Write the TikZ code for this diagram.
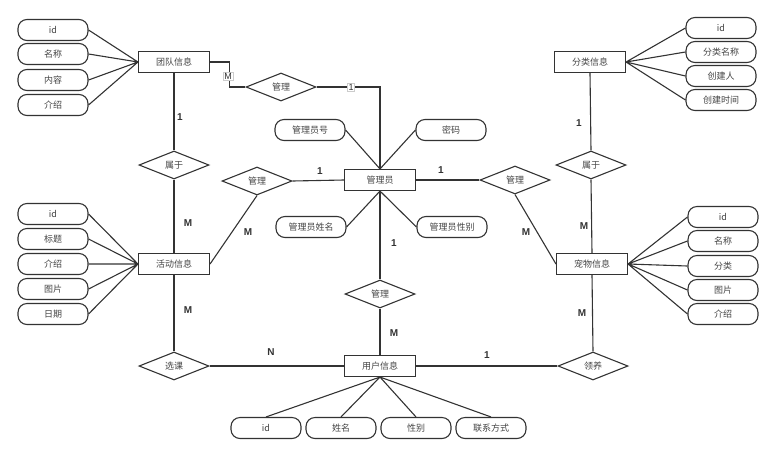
\documentclass[tikz,border=0pt]{standalone}
\usepackage{fontspec}
\setmainfont{Noto Sans CJK SC}
\newfontfamily\numfont{Liberation Sans}
\usetikzlibrary{shapes.geometric}
\definecolor{lncol}{HTML}{333333}
\definecolor{txtcol}{HTML}{444444}

\begin{document}
\begin{tikzpicture}[x=1pt, y=-1pt, line width=1.1pt, draw=lncol,
    entity/.style={draw=lncol, rectangle, minimum width=71pt, minimum height=21pt, inner sep=0pt, text=txtcol, font=\fontsize{9}{10}\selectfont},
    attr/.style={draw=lncol, rectangle, rounded corners=9pt, minimum width=70pt, minimum height=21pt, inner sep=0pt, text=txtcol, font=\fontsize{9}{10}\selectfont},
    rel/.style={draw=lncol, diamond, aspect=2.5, minimum width=70pt, minimum height=28pt, inner sep=0pt, text=txtcol, font=\fontsize{9}{10}\selectfont},
    card/.style={inner sep=0pt, text=lncol, font=\numfont\bfseries\fontsize{10}{12}\selectfont},
    tag/.style={fill=white, draw=gray!40, line width=0.4pt, inner sep=1pt, text=lncol, font=\numfont\fontsize{9}{10}\selectfont}]
    \useasboundingbox (0,0) rectangle (776,456);

    % entities
    \node[entity] (team) at (174,62) {团队信息};
    \node[entity] (cat) at (590,62) {分类信息};
    \node[entity] (admin) at (380,180) {管理员};
    \node[entity] (act) at (174,264) {活动信息};
    \node[entity] (pet) at (592,264) {宠物信息};
    \node[entity] (user) at (380,366) {用户信息};

    % relations
    \node[rel] (mgT) at (281,87) {管理};
    \node[rel] (belT) at (174,165) {属于};
    \node[rel] (belC) at (591,165) {属于};
    \node[rel] (mgA) at (257,181) {管理};
    \node[rel] (mgC) at (515,180) {管理};
    \node[rel] (mgU) at (380,294) {管理};
    \node[rel] (course) at (174,366) {选课};
    \node[rel] (adopt) at (593,366) {领养};

    % attributes
    \node[attr] (tid) at (53,30) {id};
    \node[attr] (tname) at (53,54) {名称};
    \node[attr] (tcont) at (53,80) {内容};
    \node[attr] (tintro) at (53,105) {介绍};

    \node[attr] (cid) at (721,28) {id};
    \node[attr] (cname) at (721,52) {分类名称};
    \node[attr] (cuser) at (721,76) {创建人};
    \node[attr] (ctime) at (721,100) {创建时间};

    \node[attr] (adno) at (310,130) {管理员号};
    \node[attr] (adpwd) at (451,130) {密码};
    \node[attr] (adname) at (311,227) {管理员姓名};
    \node[attr] (adsex) at (452,227) {管理员性别};

    \node[attr] (aid) at (53,214) {id};
    \node[attr] (atitle) at (53,239) {标题};
    \node[attr] (aintro) at (53,264) {介绍};
    \node[attr] (apic) at (53,289) {图片};
    \node[attr] (adate) at (53,314) {日期};

    \node[attr] (pid) at (723,217) {id};
    \node[attr] (pname) at (723,241) {名称};
    \node[attr] (ptype) at (723,266) {分类};
    \node[attr] (ppic) at (723,290) {图片};
    \node[attr] (pintro) at (723,314) {介绍};

    \node[attr] (uid) at (266,428) {id};
    \node[attr] (uname) at (341,428) {姓名};
    \node[attr] (usex) at (416,428) {性别};
    \node[attr] (uphone) at (491,428) {联系方式};

    % attribute links
    \draw (tid.east) -- (team.west) (tname.east) -- (team.west) (tcont.east) -- (team.west) (tintro.east) -- (team.west);
    \draw (cid.west) -- (cat.east) (cname.west) -- (cat.east) (cuser.west) -- (cat.east) (ctime.west) -- (cat.east);
    \draw (adno.east) -- (admin.north) (adpwd.west) -- (admin.north);
    \draw (adname.east) -- (admin.south) (adsex.west) -- (admin.south);
    \draw (aid.east) -- (act.west) (atitle.east) -- (act.west) (aintro.east) -- (act.west) (apic.east) -- (act.west) (adate.east) -- (act.west);
    \draw (pid.west) -- (pet.east) (pname.west) -- (pet.east) (ptype.west) -- (pet.east) (ppic.west) -- (pet.east) (pintro.west) -- (pet.east);
    \draw (uid.north) -- (user.south) (uname.north) -- (user.south) (usex.north) -- (user.south) (uphone.north) -- (user.south);

    % relation links
    \draw (team.east) -- ++(19,0) |- (mgT.west);
    \draw (mgT.east) -| (admin.north);
    \draw (team.south) -- (belT.north);
    \draw (belT.south) -- (act.north);
    \draw (cat.south) -- (belC.north);
    \draw (belC.south) -- (pet.north);
    \draw (mgA.east) -- (admin.west);
    \draw (act.east) -- (mgA.south);
    \draw (admin.east) -- (mgC.west);
    \draw (mgC.south) -- (pet.west);
    \draw (admin.south) -- (mgU.north);
    \draw (mgU.south) -- (user.north);
    \draw (act.south) -- (course.north);
    \draw (course.east) -- (user.west);
    \draw (user.east) -- (adopt.west);
    \draw (pet.south) -- (adopt.north);

    % cardinalities
    \node[tag] (tgM) at (228,76) {M};
    \node[tag] (tg1) at (351,87) {1};
    \node[card] (c1) at (180,117) {1};
    \node[card] (c2) at (188,223) {M};
    \node[card] (c3) at (248,232) {M};
    \node[card] (c4) at (320,171) {1};
    \node[card] (c5) at (441,170) {1};
    \node[card] (c6) at (579,123) {1};
    \node[card] (c7) at (584,226) {M};
    \node[card] (c8) at (526,232) {M};
    \node[card] (c9) at (394,243) {1};
    \node[card] (c10) at (394,333) {M};
    \node[card] (c11) at (188,310) {M};
    \node[card] (c12) at (271,352) {N};
    \node[card] (c13) at (487,355) {1};
    \node[card] (c14) at (582,313) {M};
\end{tikzpicture}
\end{document}
